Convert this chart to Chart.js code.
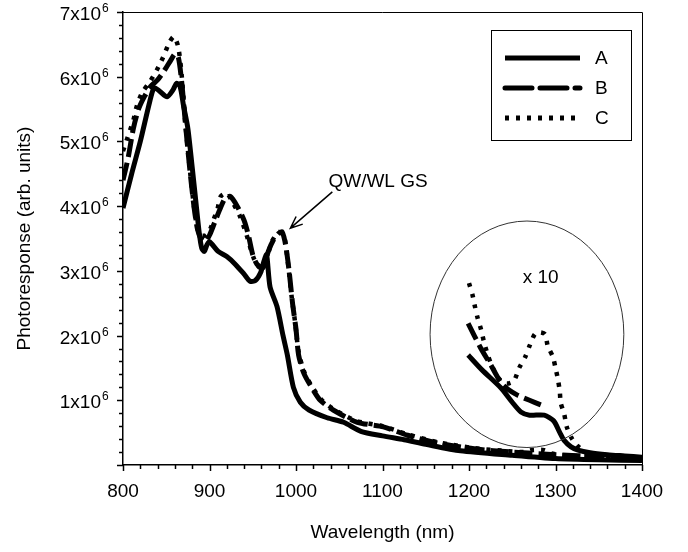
<!DOCTYPE html>
<html>
<head>
<meta charset="utf-8">
<script src="https://cdn.jsdelivr.net/npm/chart.js@4.4.0/dist/chart.umd.min.js"></script>
<style>
  html, body { margin: 0; padding: 0; background: #fff; }
  #wrap { width: 688px; height: 552px; }
</style>
</head>
<body>
<div id="wrap"><canvas id="grafico" width="688" height="552"></canvas></div>
<script>
// Comprimento de onda (nm) e fotoresposta (em 10^6 unidades arb.)
const ondaA = [800, 810, 820, 831, 836, 842, 851, 858, 862, 866, 870, 875, 880, 884, 888, 891, 894, 897, 900, 910, 920, 930, 940, 947, 953, 959, 963, 966, 970, 978, 985, 990, 997, 1005, 1015, 1036, 1055, 1075, 1100, 1125, 1150, 1190, 1250, 1300, 1350, 1400];
const respA = [3.97, 4.5, 5.0, 5.62, 5.83, 5.78, 5.69, 5.8, 5.9, 5.85, 5.55, 5.2, 4.6, 4.1, 3.6, 3.35, 3.3, 3.4, 3.45, 3.3, 3.22, 3.1, 2.95, 2.84, 2.85, 2.97, 3.15, 3.25, 2.75, 2.45, 2.0, 1.7, 1.2, 0.97, 0.85, 0.73, 0.66, 0.52, 0.45, 0.39, 0.32, 0.22, 0.15, 0.1, 0.08, 0.07];

const ondaB = [800, 806, 812, 818, 825, 832, 840, 848, 855, 860, 864, 868, 872, 877, 882, 886, 890, 895, 900, 906, 912, 918, 924, 932, 940, 945, 950, 955, 962, 968, 974, 980, 984, 988, 992, 996, 1000, 1003, 1009, 1018, 1028, 1043, 1071, 1101, 1129, 1164, 1206, 1250, 1300, 1350, 1400];
const respB = [4.4, 4.75, 5.2, 5.5, 5.7, 5.85, 5.95, 6.1, 6.25, 6.35, 6.3, 5.9, 5.3, 4.6, 4.0, 3.65, 3.5, 3.45, 3.55, 3.75, 3.95, 4.12, 4.15, 4.0, 3.78, 3.55, 3.25, 3.1, 3.05, 3.3, 3.48, 3.58, 3.6, 3.4, 3.0, 2.5, 2.1, 1.7, 1.42, 1.2, 1.0, 0.85, 0.66, 0.59, 0.46, 0.34, 0.25, 0.2, 0.16, 0.13, 0.11];

const ondaC = [800, 805, 812, 816, 822, 831, 839, 846, 854, 859, 864, 868, 872, 877, 882, 886, 890, 896, 901, 905, 909, 913, 920, 925, 935, 943, 951, 958, 965, 972, 980, 986, 990, 995, 999, 1003, 1010, 1020, 1030, 1045, 1070, 1100, 1130, 1165, 1206, 1250, 1265, 1272, 1287, 1295, 1310, 1350, 1400];
const respC = [4.85, 5.05, 5.33, 5.55, 5.75, 5.92, 6.1, 6.29, 6.54, 6.62, 6.45, 6.0, 5.3, 4.6, 4.0, 3.65, 3.55, 3.55, 3.65, 3.8, 3.94, 4.15, 4.2, 4.1, 3.85, 3.55, 3.2, 3.05, 3.15, 3.45, 3.6, 3.55, 3.2, 2.6, 2.2, 1.75, 1.42, 1.18, 1.0, 0.85, 0.68, 0.6, 0.47, 0.35, 0.26, 0.21, 0.2, 0.23, 0.23, 0.18, 0.15, 0.13, 0.11];

// Trechos ampliados x 10
const ondaA10 = [1199, 1215, 1237, 1250, 1260, 1270, 1287, 1298, 1305, 1310, 1318, 1326, 1340, 1360, 1380, 1400];
const respA10 = [1.7, 1.47, 1.19, 0.97, 0.82, 0.77, 0.77, 0.68, 0.5, 0.38, 0.28, 0.23, 0.19, 0.16, 0.14, 0.12];
const ondaB10 = [1199, 1213, 1225, 1237, 1245, 1256, 1270, 1283];
const respB10 = [2.19, 1.82, 1.55, 1.27, 1.17, 1.08, 1.0, 0.93];
const ondaC10 = [1200, 1204, 1207, 1210, 1214, 1217, 1221, 1225, 1233, 1240, 1246, 1252, 1258, 1265, 1270, 1276, 1282, 1288, 1291, 1297, 1300, 1303, 1305, 1306, 1310, 1313, 1318, 1325, 1335];
const respC10 = [2.81, 2.63, 2.44, 2.27, 2.09, 1.92, 1.73, 1.58, 1.36, 1.27, 1.26, 1.3, 1.5, 1.67, 1.84, 2.02, 2.05, 2.02, 1.84, 1.67, 1.5, 1.31, 1.13, 0.96, 0.79, 0.59, 0.43, 0.3, 0.2];

const nomesSeries = ['A', 'B', 'C'];
const fonte = '"Liberation Sans", Arial, Helvetica, sans-serif';

const tracos = {
  A: [],
  B: [18, 6],
  C: [4, 7]
};

function pontos(xs, ys) {
  return xs.map((x, i) => ({ x: x, y: ys[i] }));
}

function serie(xs, ys, nome) {
  return {
    label: nome,
    data: pontos(xs, ys),
    borderColor: '#000',
    borderWidth: nome === 'C' ? 4.5 : 5,
    borderDash: tracos[nome],
    borderCapStyle: 'butt',
    pointRadius: 0,
    fill: false,
    tension: 0.25
  };
}

// Desenha ticks, moldura, rótulos do eixo y, legenda e anotações
const extras = {
  id: 'extras',
  afterDraw(chart) {
    const ctx = chart.ctx;
    const area = chart.chartArea;
    const sx = chart.scales.x;
    const sy = chart.scales.y;
    ctx.save();
    ctx.strokeStyle = '#000';
    ctx.fillStyle = '#000';

    // moldura superior e direita
    ctx.lineWidth = 1;
    ctx.beginPath();
    ctx.moveTo(area.left, area.top + 0.5);
    ctx.lineTo(area.right + 0.5, area.top + 0.5);
    ctx.lineTo(area.right + 0.5, area.bottom);
    ctx.stroke();

    // ticks do eixo x
    ctx.lineWidth = 1.5;
    sx.ticks.forEach(t => {
      const px = Math.round(sx.getPixelForValue(t.value)) + 0.5;
      const maior = Math.abs(t.value % 100) < 1e-6;
      ctx.beginPath();
      ctx.moveTo(px, area.bottom);
      ctx.lineTo(px, area.bottom + (maior ? 6 : 4));
      ctx.stroke();
    });

    // ticks e rótulos do eixo y
    sy.ticks.forEach(t => {
      const py = Math.round(sy.getPixelForValue(t.value)) + 0.5;
      const maior = Math.abs(t.value - Math.round(t.value)) < 1e-6;
      ctx.beginPath();
      ctx.moveTo(area.left, py);
      ctx.lineTo(area.left - (maior ? 6 : 4), py);
      ctx.stroke();
      if (maior && t.value > 0) {
        ctx.font = '19px ' + fonte;
        ctx.textAlign = 'right';
        ctx.textBaseline = 'alphabetic';
        ctx.fillText(Math.round(t.value) + 'x10', area.left - 22, py + 7);
        ctx.font = '12px ' + fonte;
        ctx.textAlign = 'left';
        ctx.fillText('6', area.left - 21, py - 1);
      }
    });

    // círculo do trecho x 10
    const cx = sx.getPixelForValue(1267);
    const cy = sy.getPixelForValue(2.02);
    const rx = sx.getPixelForValue(1267 + 112) - cx;
    const ry = cy - sy.getPixelForValue(2.02 + 1.75);
    ctx.strokeStyle = '#333';
    ctx.lineWidth = 1;
    ctx.beginPath();
    ctx.ellipse(cx, cy, rx, ry, 0, 0, Math.PI * 2);
    ctx.stroke();

    ctx.font = '19px ' + fonte;
    ctx.textAlign = 'left';
    ctx.textBaseline = 'alphabetic';
    ctx.fillText('x 10', sx.getPixelForValue(1262), sy.getPixelForValue(2.81));

    // seta QW/WL GS
    ctx.fillText('QW/WL GS', sx.getPixelForValue(1037.5), sy.getPixelForValue(4.3));
    const x0 = sx.getPixelForValue(1042), y0 = sy.getPixelForValue(4.22);
    const x1 = sx.getPixelForValue(993.5), y1 = sy.getPixelForValue(3.66);
    const ang = Math.atan2(y1 - y0, x1 - x0);
    ctx.strokeStyle = '#000';
    ctx.lineWidth = 1.5;
    ctx.beginPath();
    ctx.moveTo(x0, y0);
    ctx.lineTo(x1, y1);
    ctx.moveTo(x1 - 13 * Math.cos(ang - 0.4), y1 - 13 * Math.sin(ang - 0.4));
    ctx.lineTo(x1, y1);
    ctx.lineTo(x1 - 13 * Math.cos(ang + 0.4), y1 - 13 * Math.sin(ang + 0.4));
    ctx.stroke();

    // legenda
    const lx = area.right - 151, ly = area.top + 18;
    ctx.lineWidth = 1;
    ctx.strokeRect(lx + 0.5, ly + 0.5, 140, 110);
    const dashLeg = { A: [], B: [27, 8], C: [4, 7] };
    nomesSeries.forEach((nome, i) => {
      const yy = ly + 28 + i * 30;
      ctx.setLineDash(dashLeg[nome]);
      ctx.lineWidth = 5;
      ctx.lineCap = nome === 'B' ? 'round' : 'butt';
      ctx.beginPath();
      ctx.moveTo(lx + 14, yy);
      ctx.lineTo(lx + 89, yy);
      ctx.stroke();
      ctx.setLineDash([]);
      ctx.font = '19px ' + fonte;
      ctx.textBaseline = 'middle';
      ctx.fillText(nome, lx + 104, yy + 1);
    });
    ctx.restore();
  }
};

const grafico = new Chart(document.getElementById('grafico').getContext('2d'), {
  type: 'line',
  data: {
    datasets: [
      serie(ondaA, respA, 'A'),
      serie(ondaB, respB, 'B'),
      serie(ondaC, respC, 'C'),
      serie(ondaA10, respA10, 'A'),
      serie(ondaB10, respB10, 'B'),
      serie(ondaC10, respC10, 'C')
    ]
  },
  options: {
    responsive: false,
    animation: false,
    devicePixelRatio: 1,
    layout: { padding: { top: 12, right: 46, left: 0, bottom: 0 } },
    plugins: { legend: { display: false }, tooltip: { enabled: false } },
    scales: {
      x: {
        type: 'linear',
        min: 800,
        max: 1400,
        afterFit: s => { s.height = 87; },
        border: { display: true, color: '#000', width: 1.5 },
        grid: { display: true, drawOnChartArea: false, drawTicks: false },
        ticks: {
          stepSize: 20,
          autoSkip: false,
          maxRotation: 0,
          padding: 15,
          color: '#000',
          font: { family: fonte, size: 19 },
          callback: v => (v % 100 === 0 ? String(v) : '')
        },
        title: {
          display: true,
          text: 'Wavelength (nm)',
          color: '#000',
          font: { family: fonte, size: 19 },
          padding: { top: 0, bottom: 8 }
        }
      },
      y: {
        type: 'linear',
        min: 0,
        max: 7,
        afterFit: s => { s.width = 123; },
        border: { display: true, color: '#000', width: 1.5 },
        grid: { display: true, drawOnChartArea: false, drawTicks: false },
        ticks: { stepSize: 0.2, autoSkip: false, display: false },
        title: {
          display: true,
          text: 'Photoresponse (arb. units)',
          color: '#000',
          font: { family: fonte, size: 19 },
          padding: { top: 13, bottom: 0 }
        }
      }
    }
  },
  plugins: [extras]
});
</script>
</body>
</html>
